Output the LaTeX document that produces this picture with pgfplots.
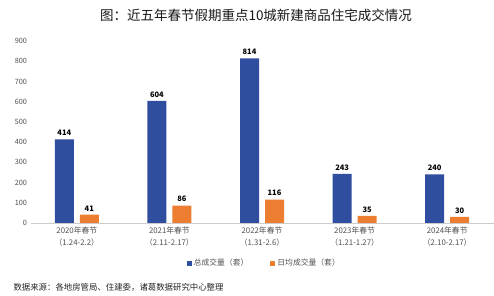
\documentclass[border=0pt]{standalone}
\usepackage{fontspec}
\setmainfont{Noto Sans CJK SC}
\usepackage{pgfplots}
\pgfplotsset{compat=1.18}
\definecolor{cblue}{RGB}{47,78,160}
\definecolor{corange}{RGB}{237,125,49}
\definecolor{tgray}{RGB}{80,80,80}
\begin{document}
\begin{tikzpicture}
\useasboundingbox (0pt,0pt) rectangle (494pt,296pt);
\begin{axis}[
  at={(30.5pt,73pt)}, anchor=south west,
  scale only axis, width=463pt, height=182pt,
  ymin=0, ymax=900, ytick={0,100,...,900},
  xmin=-0.5, xmax=4.5,
  xtick={0,1,2,3,4},
  xticklabels={{2020年春节\\（1.24-2.2）},{2021年春节\\（2.11-2.17）},{2022年春节\\（1.31-2.6）},{2023年春节\\（1.21-1.27）},{2024年春节\\（2.10-2.17）}},
  xticklabel style={align=center, font=\fontsize{7.8}{12.5}\selectfont, text=tgray},
  yticklabel style={font=\fontsize{7.3}{8}\selectfont, text=tgray},
  /pgf/number format/assume math mode=true,
  axis line style={draw=none},
  extra y ticks={0}, extra y tick labels={},
  extra y tick style={grid=major, major grid style={gray!40, line width=0.6pt}},
  major tick length=0pt,
  ybar, bar width=19pt,
  nodes near coords,
  every node near coord/.append style={font=\bfseries\fontsize{7.5}{9}\selectfont, text=black},
  legend style={at={(0.505,-0.22)}, anchor=center, draw=none, fill=none,
    legend columns=2, font=\fontsize{7.8}{9}\selectfont, text=tgray,
    /tikz/every even column/.append style={column sep=20pt}},
  legend image code/.code={\fill[#1] (0pt,-2.5pt) rectangle (5pt,2.5pt);},
  clip=false,
]
\addplot[fill=cblue, draw=none, bar shift=-12.5pt] coordinates {(0,414) (1,604) (2,814) (3,243) (4,240)};
\addplot[fill=corange, draw=none, bar shift=12.5pt] coordinates {(0,41) (1,86) (2,116) (3,35) (4,30)};
\legend{总成交量（套）,日均成交量（套）}
\end{axis}
\node[font=\fontsize{13.5}{15}\selectfont, text=black!90] at (256pt,281pt) {图：近五年春节假期重点10城新建商品住宅成交情况};
\node[anchor=west, font=\fontsize{8.4}{10}\selectfont, text=black!85] at (10pt,9pt) {数据来源：各地房管局、住建委，诸葛数据研究中心整理};
\end{tikzpicture}
\end{document}
